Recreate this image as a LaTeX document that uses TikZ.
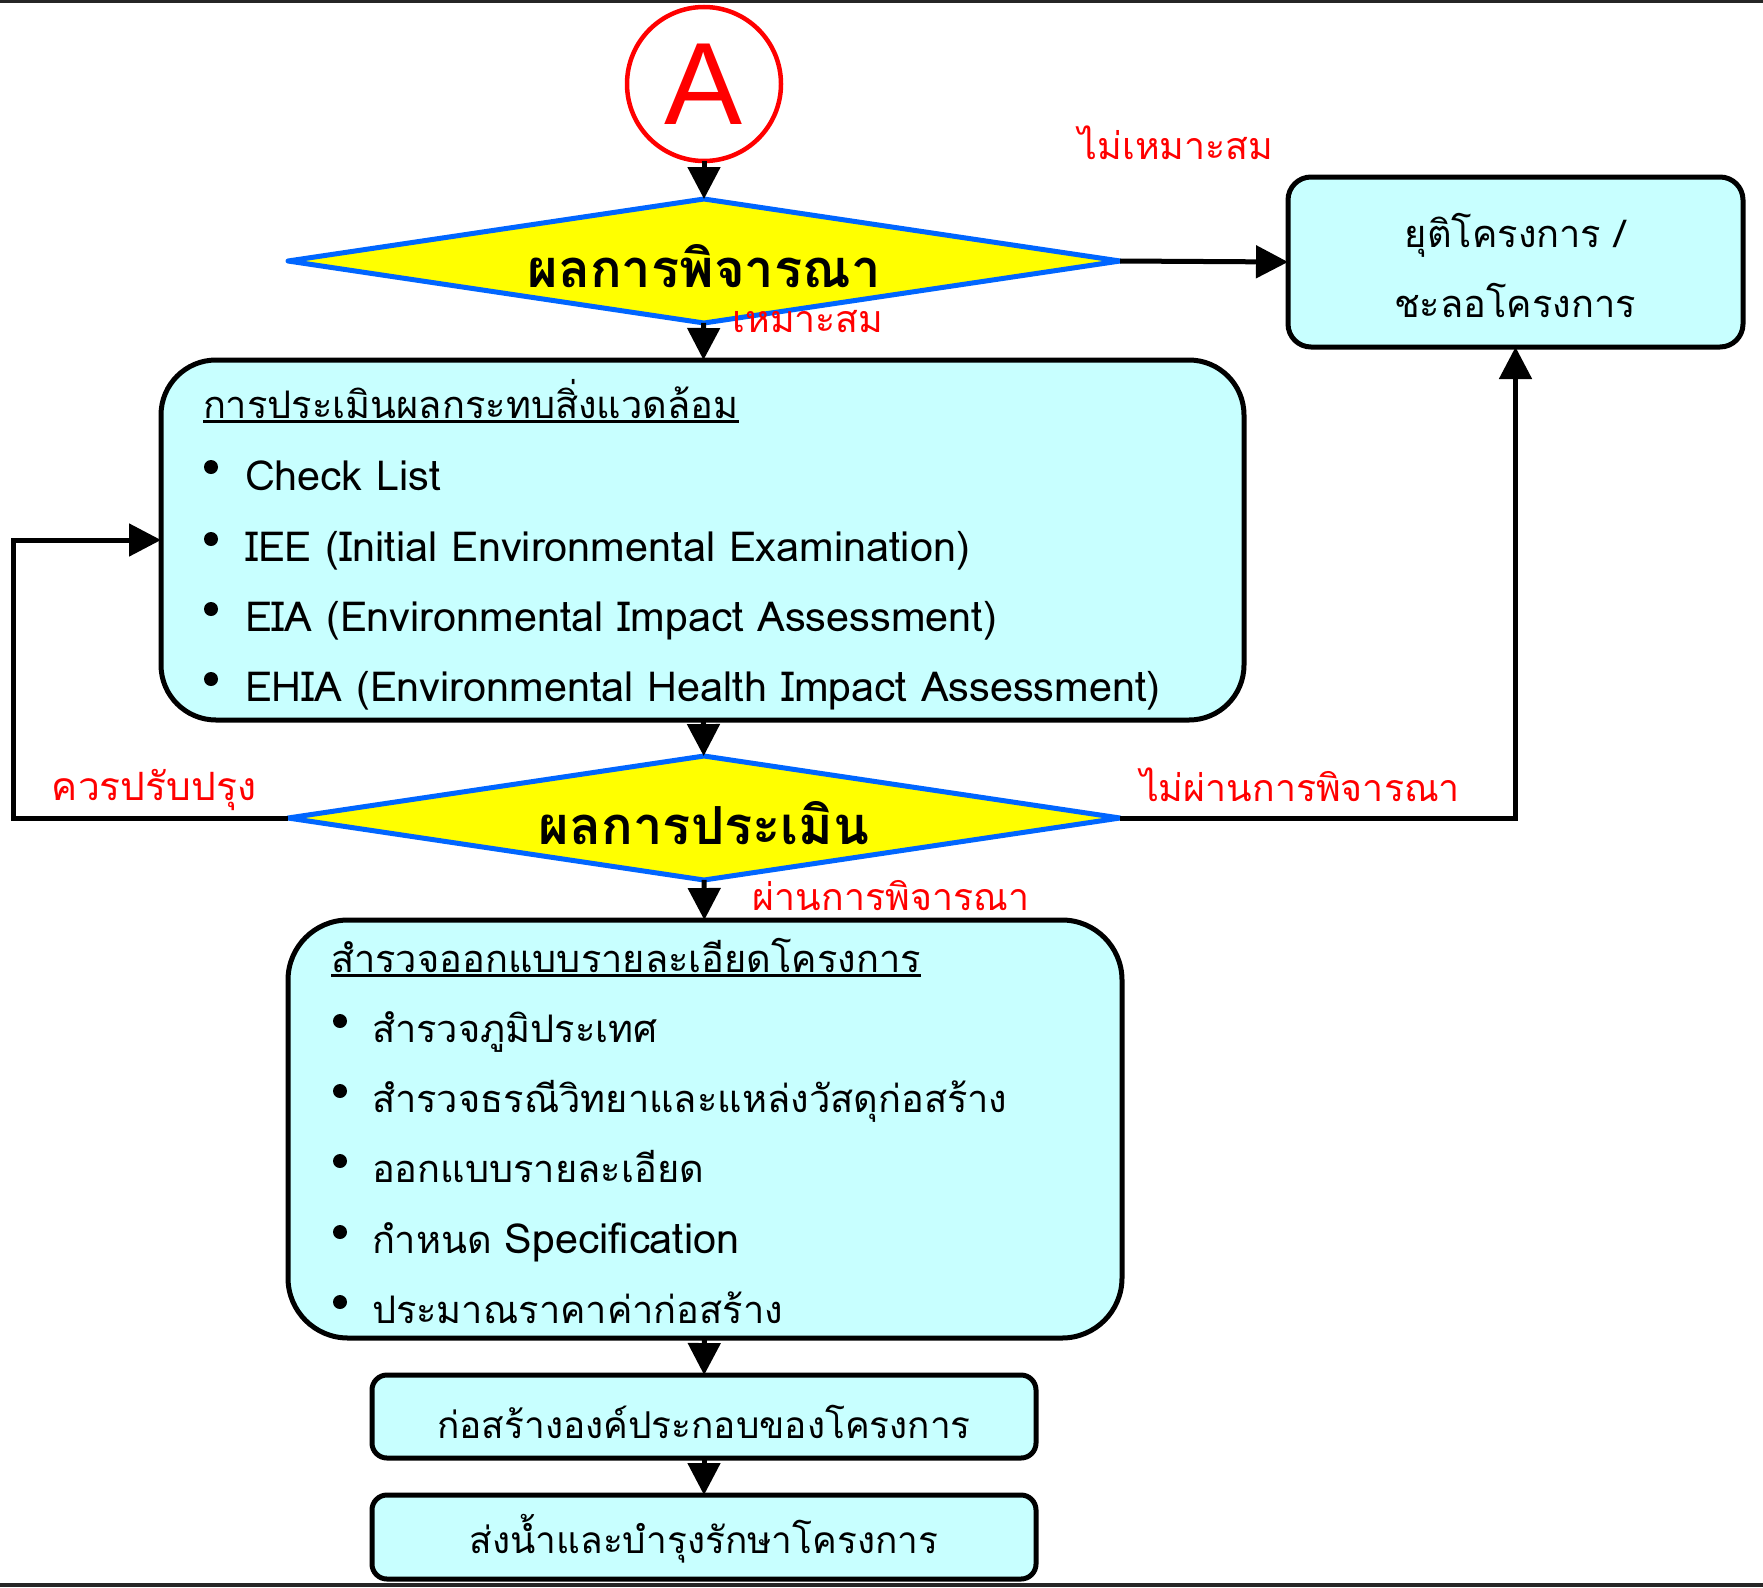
\documentclass[tikz,border=0pt]{standalone}
\usepackage{fontspec}
\usetikzlibrary{arrows.meta,shapes.geometric}
\newfontfamily\thai[Script=Thai]{Loma}
\newfontfamily\arialA{Liberation Sans}
\definecolor{boxcyan}{RGB}{200,255,255}
\definecolor{dblue}{RGB}{0,102,255}
\definecolor{lred}{RGB}{255,0,0}
\definecolor{dyellow}{RGB}{255,255,0}
\begin{document}
\begin{tikzpicture}[x=1pt,y=-1pt,
  every node/.style={inner sep=0pt, outer sep=0pt},
  conn/.style={line width=5pt, -{Triangle[width=32pt,length=32pt]}},
  procbox/.style={draw=black, line width=5pt, fill=boxcyan, rectangle},
  decide/.style={diamond, aspect=6.71, draw=dblue, line width=5pt, line join=round, fill=dyellow, minimum width=832pt, minimum height=124pt},
  dtext/.style={font=\thai\bfseries\fontsize{52.5}{60}\selectfont},
  lbl/.style={text=lred, anchor=base, font=\thai\fontsize{37.5}{40}\selectfont},
  txt/.style={anchor=base west, font=\thai\fontsize{38}{44}\selectfont},
  ltxt/.style={anchor=base west, font=\thai\fontsize{41.4}{44}\selectfont},
  dot/.style={circle, fill=black, minimum size=14pt}
]
\useasboundingbox (0,0) rectangle (1763,1587);
\fill[white] (0,0) rectangle (1763,1587);
\draw[line width=3.5pt, draw=black!85] (0,1.75) -- (1763,1.75);
\draw[line width=4pt, draw=black!85] (0,1585) -- (1763,1585);

% start connector
\node[circle, draw=lred, line width=4.5pt, minimum size=154pt, font=\arialA\fontsize{117}{117}\selectfont, text=lred] (A) at (704,84) {A};

% decisions
\node[decide] (d1) at (704,261) {};
\node[dtext] (d1t) at (704,266) {ผลการพิจารณา};
\node[decide] (d2) at (704,818) {};
\node[dtext] (d2t) at (704,823) {ผลการประเมิน};

% boxes
\node[procbox, rounded corners=23pt, minimum width=455pt, minimum height=170pt] (stop) at (1515.5,262) {};
\node[procbox, rounded corners=55pt, minimum width=1083pt, minimum height=360pt] (eia) at (702.5,540) {};
\node[procbox, rounded corners=60pt, minimum width=834pt, minimum height=418pt] (design) at (705,1129) {};
\node[procbox, rounded corners=15pt, minimum width=664pt, minimum height=83pt] (build) at (704,1416.5) {};
\node[procbox, rounded corners=15pt, minimum width=664pt, minimum height=84pt] (water) at (704,1537) {};

% stop box text
\node[txt, anchor=base] (s1) at (1515,247) {ยุติโครงการ /};
\node[txt, anchor=base] (s2) at (1515,317) {ชะลอโครงการ};

% eia text
\node[txt] (e0) at (203,418) {การประเมินผลกระทบสิ่งแวดล้อม};
\draw[line width=2.5pt] ([yshift=-3.5pt]e0.base west) -- ([yshift=-3.5pt]e0.base east);
\node[dot] (b1) at (211,467) {};
\node[ltxt] (e1) at (245,490) {Check List};
\node[dot] (b2) at (211,539) {};
\node[ltxt] (e2) at (245,561) {IEE (Initial Environmental Examination)};
\node[dot] (b3) at (211,609) {};
\node[ltxt] (e3) at (245,631) {EIA (Environmental Impact Assessment)};
\node[dot] (b4) at (211,679) {};
\node[ltxt] (e4) at (245,701) {EHIA (Environmental Health Impact Assessment)};

% design text
\node[txt] (g0) at (331,972) {สำรวจออกแบบรายละเอียดโครงการ};
\draw[line width=2.5pt] ([yshift=-3.5pt]g0.base west) -- ([yshift=-3.5pt]g0.base east);
\node[dot] (c1) at (340,1021) {};
\node[txt] (g1) at (372,1042) {สำรวจภูมิประเทศ};
\node[dot] (c2) at (340,1091) {};
\node[txt] (g2) at (372,1112) {สำรวจธรณีวิทยาและแหล่งวัสดุก่อสร้าง};
\node[dot] (c3) at (340,1161) {};
\node[txt] (g3) at (372,1182) {ออกแบบรายละเอียด};
\node[dot] (c4) at (340,1232) {};
\node[txt] (g4) at (372,1253) {กำหนด {\fontsize{41.4}{44}\selectfont Specification}};
\node[dot] (c5) at (340,1302) {};
\node[txt] (g5) at (372,1323) {ประมาณราคาค่าก่อสร้าง};

\node[txt, anchor=base, font=\thai\fontsize{37}{44}\selectfont] (t4) at (704,1438) {ก่อสร้างองค์ประกอบของโครงการ};
\node[txt, anchor=base, font=\thai\fontsize{37}{44}\selectfont] (t5) at (704,1553) {ส่งน้ำและบำรุงรักษาโครงการ};

% labels
\node[lbl] (l1) at (1176,159) {ไม่เหมาะสม};
\node[lbl] (l2) at (808,332) {เหมาะสม};
\node[lbl, font=\thai\fontsize{39}{40}\selectfont] (l3) at (154,800) {ควรปรับปรุง};
\node[lbl] (l4) at (1300,801) {ไม่ผ่านการพิจารณา};
\node[lbl] (l5) at (891,910) {ผ่านการพิจารณา};

% connectors
\coordinate (lp) at (13,818);
\draw[conn] (A) -- (d1);
\draw[conn] (d1) -- (eia);
\draw[conn] (d1.east) -- (stop.west);
\draw[conn] (eia) -- (d2);
\draw[conn] (d2.west) -- (lp) |- (eia.west);
\draw[conn] (d2.east) -| (stop.south);
\draw[conn] (d2) -- (design);
\draw[conn] (design) -- (build);
\draw[conn] (build) -- (water);
\end{tikzpicture}
\end{document}
